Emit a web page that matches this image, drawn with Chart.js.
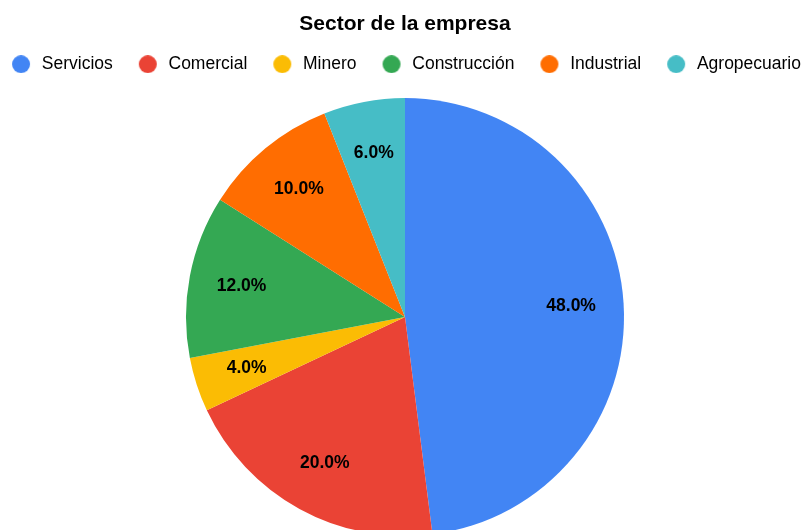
<!DOCTYPE html>
<html>
<head>
<meta charset="utf-8">
<script src="https://cdn.jsdelivr.net/npm/chart.js@4"></script>
<style>
  html, body { margin: 0; padding: 0; overflow: hidden; background: #fff; }
  body { width: 805px; height: 530px; position: relative; }
  #wrap { position: absolute; left: -20px; top: 0; width: 850px; height: 551px; }
</style>
</head>
<body>
<div id="wrap"><canvas id="sectorChart"></canvas></div>
<script>
const sectors = ["Servicios", "Comercial", "Minero", "Construcción", "Industrial", "Agropecuario"];
const shares = [48, 20, 4, 12, 10, 6];
const sliceColors = ["#4285F4", "#EA4335", "#FBBC04", "#34A853", "#FF6D01", "#46BDC6"];

const FONT = "'Liberation Sans', Arial, sans-serif";

// legend dot drawn into a small canvas so the gap to the text matches
function legendDot(color) {
  const c = document.createElement("canvas");
  c.width = 24;
  c.height = 18;
  const g = c.getContext("2d");
  g.fillStyle = color;
  g.beginPath();
  g.arc(12, 9, 9, 0, Math.PI * 2);
  g.fill();
  return c;
}

const sliceLabels = {
  id: "sliceLabels",
  afterDatasetsDraw(chart) {
    const ctx = chart.ctx;
    const meta = chart.getDatasetMeta(0);
    const total = shares.reduce((a, b) => a + b, 0);
    ctx.save();
    ctx.font = "bold 17.5px " + FONT;
    ctx.fillStyle = "#000";
    ctx.textAlign = "center";
    ctx.textBaseline = "middle";
    meta.data.forEach((arc, i) => {
      const p = arc.getProps(["x", "y", "startAngle", "endAngle", "outerRadius"], true);
      const mid = (p.startAngle + p.endAngle) / 2;
      const r = p.outerRadius * 0.76;
      const txt = (shares[i] / total * 100).toFixed(1) + "%";
      ctx.fillText(txt, p.x + Math.cos(mid) * r, p.y + Math.sin(mid) * r);
    });
    ctx.restore();
  }
};

let sectorChart;

window.addEventListener("DOMContentLoaded", () => {
  sectorChart = new Chart(document.getElementById("sectorChart"), {
    type: "pie",
    data: {
      labels: sectors,
      datasets: [
        {
          data: shares,
          backgroundColor: sliceColors,
          borderWidth: 0,
          radius: 219
        }
      ]
    },
    options: {
      responsive: true,
      maintainAspectRatio: false,
      animation: false,
      layout: { padding: 0 },
      plugins: {
        title: {
          display: true,
          text: "Sector de la empresa",
          color: "#000",
          font: { family: FONT, size: 21, weight: "bold", lineHeight: 1 },
          padding: { top: 13.5, bottom: -2 }
        },
        legend: {
          position: "top",
          labels: {
            usePointStyle: true,
            pointStyleWidth: 24,
            boxHeight: 18,
            padding: 23,
            color: "#222",
            font: { family: FONT, size: 17.5 },
            generateLabels: () =>
              sectors.map((name, i) => ({
                text: name,
                fillStyle: sliceColors[i],
                strokeStyle: sliceColors[i],
                lineWidth: 0,
                pointStyle: legendDot(sliceColors[i]),
                hidden: false,
                index: i
              }))
          }
        },
        tooltip: { enabled: false }
      }
    },
    plugins: [sliceLabels]
  });
});
</script>
</body>
</html>
